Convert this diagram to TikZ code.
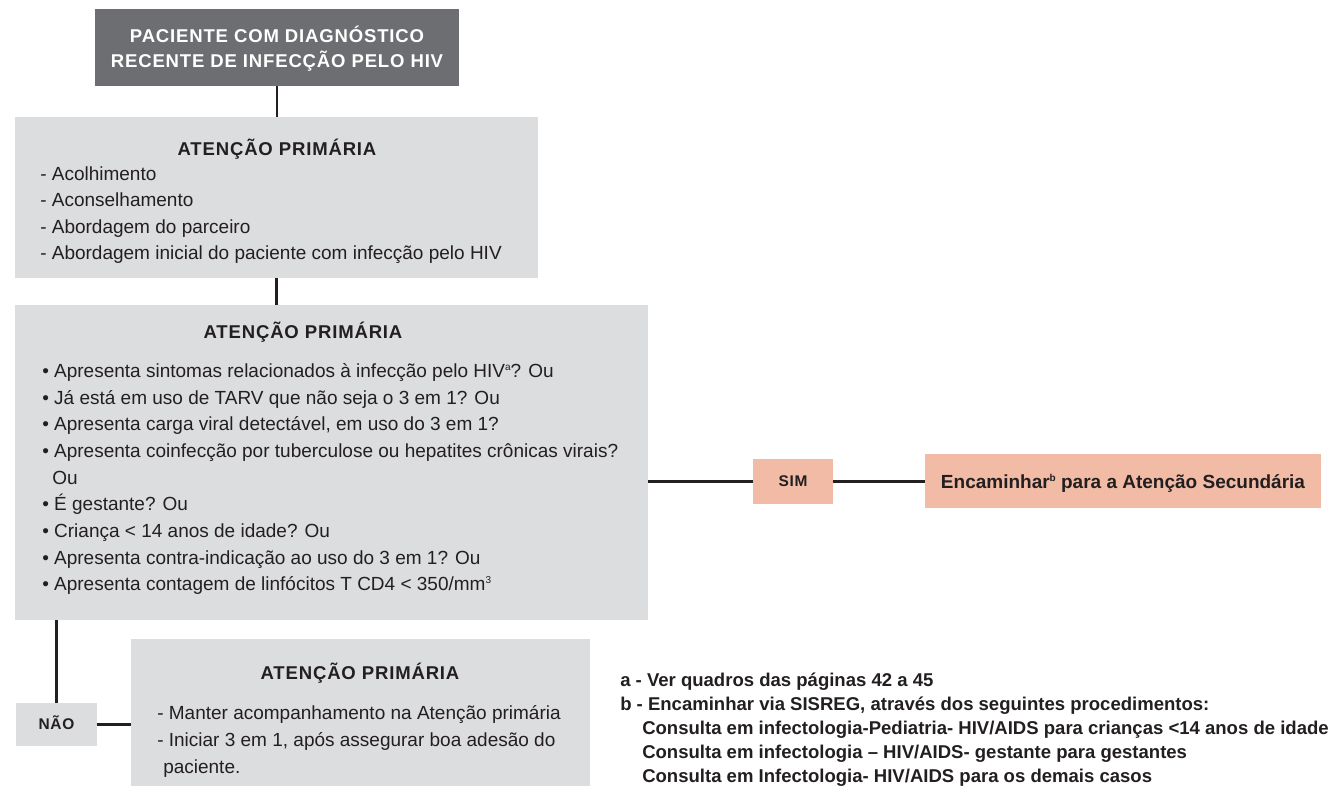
\documentclass[tikz,border=0pt]{standalone}
\usepackage{fontspec}
\setmainfont{Liberation Sans}
\usetikzlibrary{fit}
\definecolor{dkgray}{HTML}{6D6E71}
\definecolor{ltgray}{HTML}{DCDDDF}
\definecolor{salmon}{HTML}{F2BBA6}
\definecolor{ink}{HTML}{231F20}
\newcommand{\tinysup}[1]{\raisebox{0.62ex}{\fontsize{7.5pt}{8pt}\selectfont #1}}
\begin{document}
\begin{tikzpicture}[x=0.75pt,y=-0.75pt,
  boxdark/.style={fill=dkgray,draw=none,inner sep=0pt,outer sep=0pt},
  boxlight/.style={fill=ltgray,draw=none,inner sep=0pt,outer sep=0pt},
  boxsal/.style={fill=salmon,draw=none,inner sep=0pt,outer sep=0pt},
  conn/.style={draw=ink,line width=2pt},
  body/.style={inner sep=0pt,anchor=base west,text=ink,font=\fontsize{14.25pt}{17pt}\selectfont},
  head/.style={inner sep=0pt,anchor=base,text=ink,font=\fontsize{13.9pt}{16pt}\selectfont\bfseries\addfontfeature{LetterSpace=4.5}},
  small/.style={inner sep=0pt,anchor=base,text=ink,font=\fontsize{11.6pt}{13pt}\selectfont\bfseries\addfontfeature{LetterSpace=4.5}},
  note/.style={inner sep=0pt,anchor=base west,text=ink,font=\fontsize{13.9pt}{16pt}\selectfont\bfseries},
]
\useasboundingbox (0,0) rectangle (1331,786);
\fill[white] (0,0) rectangle (1331,786);

% boxes
\node[boxdark,fit={(95,9) (459,86)}] (top) {};
\node[boxlight,fit={(15,117) (538,278)}] (box2) {};
\node[boxlight,fit={(15,305) (648,620)}] (box3) {};
\node[boxsal,fit={(753,459) (833,504)}] (sim) {};
\node[boxsal,fit={(925,454) (1321,508)}] (enc) {};
\node[boxlight,fit={(16,703) (97,746)}] (nao) {};
\node[boxlight,fit={(131,639) (590,786)}] (box4) {};

% connectors
\draw[conn] (top.south) -- (top.south |- box2.north);
\draw[conn] (box2.south) -- (box2.south |- box3.north);
\draw[conn] (sim.west -| box3.east) -- (sim.west);
\draw[conn] (sim.east) -- (sim.east -| enc.west);
\draw[conn] (nao.north |- box3.south) -- (nao.north);
\draw[conn] (nao.east) -- (nao.east -| box4.west);

% top box text
\node[head,text=white] (t1) at (277,42.5) {PACIENTE COM DIAGNÓSTICO};
\node[head,text=white] (t2) at (277,67) {RECENTE DE INFECÇÃO PELO HIV};

% box 2
\node[head] (b2h) at (277,155) {ATENÇÃO PRIMÁRIA};
\node[body] (b2a) at (40,180) {- Acolhimento};
\node[body] (b2b) at (40,206.5) {- Aconselhamento};
\node[body] (b2c) at (40,233) {- Abordagem do parceiro};
\node[body] (b2d) at (40,259.5) {- Abordagem inicial do paciente com infecção pelo HIV};

% box 3
\node[head] (b3h) at (303,338) {ATENÇÃO PRIMÁRIA};
\node[body] (b3a) at (42,377) {• Apresenta sintomas relacionados à infecção pelo HIV\tinysup{a}? Ou};
\node[body] (b3b) at (42,404) {• Já está em uso de TARV que não seja o 3 em 1? Ou};
\node[body] (b3c) at (42,430) {• Apresenta carga viral detectável, em uso do 3 em 1?};
\node[body] (b3d) at (42,457) {• Apresenta coinfecção por tuberculose ou hepatites crônicas virais?};
\node[body] (b3e) at (52,484) {Ou};
\node[body] (b3f) at (42,510) {• É gestante? Ou};
\node[body] (b3g) at (42,537) {• Criança < 14 anos de idade? Ou};
\node[body] (b3h2) at (42,564) {• Apresenta contra-indicação ao uso do 3 em 1? Ou};
\node[body] (b3i) at (42,590) {• Apresenta contagem de linfócitos T CD4 < 350/mm\tinysup{3}};

% SIM / Encaminhar
\node[small] (simt) at (793,486.5) {SIM};
\node[inner sep=0pt,anchor=base,text=ink,font=\fontsize{14.25pt}{17pt}\selectfont\bfseries] (enct) at (1123,488) {Encaminhar\tinysup{b} para a Atenção Secundária};

% NAO / box 4
\node[small] (naot) at (56.5,729.5) {NÃO};
\node[head] (b4h) at (360,679) {ATENÇÃO PRIMÁRIA};
\node[body] (b4a) at (157,719) {- Manter acompanhamento na Atenção primária};
\node[body] (b4b) at (157,746) {- Iniciar 3 em 1, após assegurar boa adesão do};
\node[body] (b4c) at (163,773) {paciente.};

% notes
\node[note] (n1) at (620,686) {a - Ver quadros das páginas 42 a 45};
\node[note] (n2) at (620,710) {b - Encaminhar via SISREG, através dos seguintes procedimentos:};
\node[note] (n3) at (642,734) {Consulta em infectologia-Pediatria- HIV/AIDS para crianças <14 anos de idade};
\node[note] (n4) at (642,758) {Consulta em infectologia – HIV/AIDS- gestante para gestantes};
\node[note] (n5) at (642,782) {Consulta em Infectologia- HIV/AIDS para os demais casos};
\end{tikzpicture}
\end{document}
